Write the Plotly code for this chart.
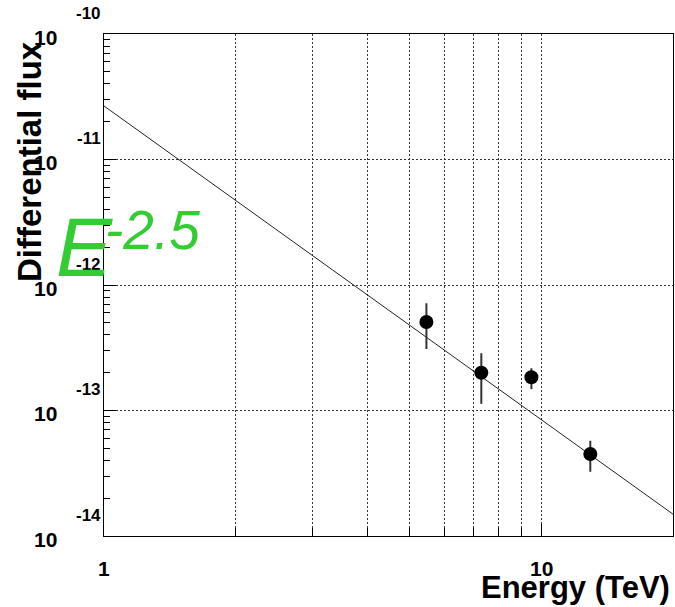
import math
import plotly.graph_objects as go

# Measured differential flux points (energy in TeV)
energy = [5.46, 7.29, 9.49, 12.94]
flux = [5.07e-13, 2.00e-13, 1.84e-13, 4.5e-14]
flux_hi = [7.15e-13, 2.86e-13, 2.17e-13, 5.74e-14]
flux_lo = [3.09e-13, 1.13e-13, 1.48e-13, 3.25e-14]

# Power-law model: F(E) = norm * E^index
pl_norm = 2.67e-11
pl_index = -2.5
model_energy = [1.0, 20.0]

# Axis ranges and tick labels
x_range = [1.0, 20.0]
y_range = [1e-14, 1e-10]
x_major = [1, 10]
x_minor = [2, 3, 4, 5, 6, 7, 8, 9]
y_exponents = [-14, -13, -12, -11, -10]

model_flux = [pl_norm * e ** pl_index for e in model_energy]
err_plus = [h - f for h, f in zip(flux_hi, flux)]
err_minus = [f - l for f, l in zip(flux, flux_lo)]

fig = go.Figure()
fig.add_trace(go.Scatter(
    x=model_energy, y=model_flux, mode="lines",
    line=dict(color="#222222", width=1), showlegend=False, hoverinfo="skip",
))
fig.add_trace(go.Scatter(
    x=energy, y=flux, mode="markers",
    marker=dict(color="black", size=14, symbol="circle"),
    error_y=dict(type="data", symmetric=False, array=err_plus, arrayminus=err_minus,
                 color="#333333", thickness=2, width=0),
    showlegend=False,
))

y_minor = [k * 10.0 ** n for n in y_exponents[:-1] for k in range(2, 10)]
grid_dash = "2px,2px"

fig.update_xaxes(
    type="log", range=[math.log10(x_range[0]), math.log10(x_range[1])],
    tickvals=x_major, showticklabels=False, ticks="inside", ticklen=12,
    tickcolor="black", showgrid=True, gridcolor="#333333", griddash=grid_dash,
    gridwidth=1, showline=True, linecolor="black", linewidth=1, mirror=True,
    zeroline=False,
    minor=dict(tickvals=x_minor, ticks="inside", ticklen=8, tickcolor="black",
               showgrid=True, gridcolor="#333333", griddash=grid_dash, gridwidth=1),
)
fig.update_yaxes(
    type="log", range=[math.log10(y_range[0]), math.log10(y_range[1])],
    tickvals=[10.0 ** n for n in y_exponents], showticklabels=False,
    ticks="inside", ticklen=12, tickcolor="black",
    showgrid=True, gridcolor="#333333", griddash=grid_dash, gridwidth=1,
    showline=True, linecolor="black", linewidth=1, mirror=True, zeroline=False,
    minor=dict(tickvals=y_minor, ticks="inside", ticklen=6, tickcolor="black",
               showgrid=False),
)

label_font = dict(family="Liberation Sans, Arial", size=21, color="black", weight="bold")
exp_font = dict(family="Liberation Sans, Arial", size=17, color="black", weight="bold")

annotations = []
# ROOT-style y tick labels: "10" with the exponent raised above it
for n in y_exponents:
    annotations.append(dict(xref="paper", yref="y", x=0, y=n, text="10",
                            xanchor="right", yanchor="middle", xshift=-45, yshift=-3,
                            showarrow=False, font=label_font))
    annotations.append(dict(xref="paper", yref="y", x=0, y=n, text=str(n),
                            xanchor="right", yanchor="middle", xshift=-1, yshift=21,
                            showarrow=False, font=exp_font))
# x tick labels
for v in x_major:
    annotations.append(dict(xref="x", yref="paper", x=math.log10(v), y=0, text=str(v),
                            xanchor="center", yanchor="middle", yshift=-32,
                            showarrow=False, font=label_font))
# axis titles
annotations.append(dict(xref="paper", yref="paper", x=1, y=0, text="Energy (TeV)",
                        xanchor="right", yanchor="middle", xshift=-1, yshift=-51,
                        showarrow=False,
                        font=dict(family="Liberation Sans, Arial", size=31, color="black",
                                  weight="bold")))
annotations.append(dict(xref="paper", yref="paper", x=0, y=(536 - 162) / 502,
                        text="Differential flux", textangle=-90,
                        xanchor="center", yanchor="middle", xshift=-75,
                        showarrow=False,
                        font=dict(family="Liberation Sans, Arial", size=33, color="black",
                                  weight="bold")))
# spectral index label
green = "#33cc33"
annotations.append(dict(xref="paper", yref="paper", x=0, y=(536 - 247) / 502, text="E",
                        xanchor="center", yanchor="middle", xshift=84 - 104,
                        showarrow=False,
                        font=dict(family="Liberation Sans Narrow, Liberation Sans, Arial",
                                  size=84, color=green, style="italic")))
annotations.append(dict(xref="paper", yref="paper", x=0, y=(536 - 230) / 502,
                        text=f"{pl_index}",
                        xanchor="center", yanchor="middle", xshift=152 - 104,
                        showarrow=False,
                        font=dict(family="Liberation Sans, Arial", size=55, color=green,
                                  style="italic")))

fig.update_layout(
    width=675, height=607,
    margin=dict(l=104, r=2, t=34, b=71),
    paper_bgcolor="white", plot_bgcolor="white",
    annotations=annotations,
    showlegend=False,
)

fig.write_html("out.html")
